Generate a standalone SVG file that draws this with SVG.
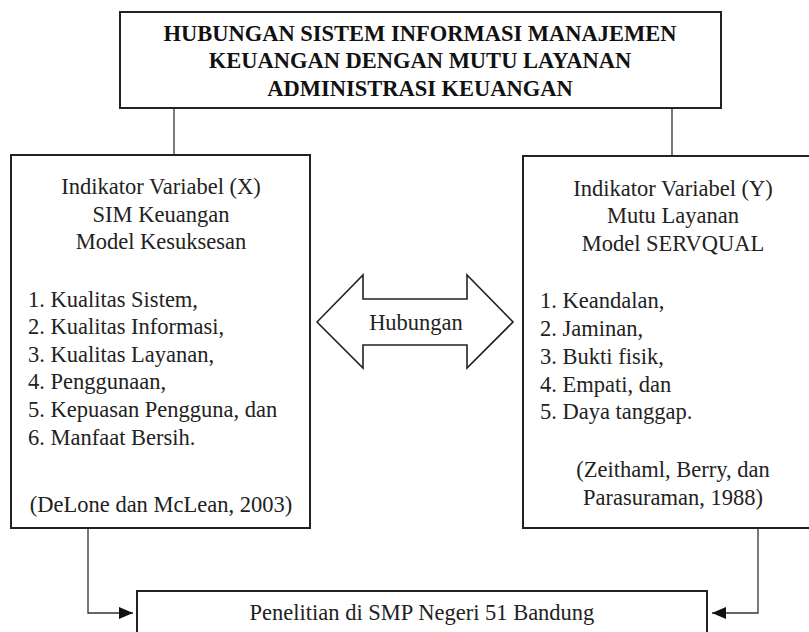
<svg xmlns="http://www.w3.org/2000/svg" width="809" height="632" viewBox="0 0 809 632">
<style>
.box{fill:#fff;stroke:#222;stroke-width:2}
.t{font-family:"Liberation Serif","Times New Roman",serif;font-size:22.5px;fill:#222}
.c{text-anchor:middle}
.title{font-family:"Liberation Serif","Times New Roman",serif;font-size:22.5px;font-weight:bold;fill:#111;text-anchor:middle}
.conn{fill:none;stroke:#333;stroke-width:1.3}
</style>
<defs>
<marker id="ah" markerWidth="14" markerHeight="12" refX="14" refY="6" orient="auto" markerUnits="userSpaceOnUse">
<path d="M0,0 L14,6 L0,12 Z" fill="#111"/>
</marker>
</defs>
<rect width="809" height="632" fill="#fff"/>
<g id="connectors">
<line class="conn" x1="174" y1="108" x2="174" y2="155"/>
<line class="conn" x1="672" y1="108" x2="672" y2="156"/>
<polyline class="conn" points="88,528 88,613 133,613" marker-end="url(#ah)"/>
<polyline class="conn" points="758,528 758,613 712,613" marker-end="url(#ah)"/>
</g>
<g id="title">
<rect class="box" x="120" y="12" width="601" height="96"/>
<text class="title" x="420" y="41">HUBUNGAN SISTEM INFORMASI MANAJEMEN</text>
<text class="title" x="420" y="68">KEUANGAN DENGAN MUTU LAYANAN</text>
<text class="title" x="420" y="96">ADMINISTRASI KEUANGAN</text>
</g>
<g id="var-x">
<rect class="box" x="11" y="155" width="299" height="373"/>
<text class="t c" x="161" y="194">Indikator Variabel (X)</text>
<text class="t c" x="161" y="222">SIM Keuangan</text>
<text class="t c" x="161" y="249">Model Kesuksesan</text>
<text class="t" x="28" y="307">1. Kualitas Sistem,</text>
<text class="t" x="28" y="334">2. Kualitas Informasi,</text>
<text class="t" x="28" y="362">3. Kualitas Layanan,</text>
<text class="t" x="28" y="389">4. Penggunaan,</text>
<text class="t" x="28" y="417">5. Kepuasan Pengguna, dan</text>
<text class="t" x="28" y="445">6. Manfaat Bersih.</text>
<text class="t c" x="161" y="512">(DeLone dan McLean, 2003)</text>
</g>
<g id="var-y">
<rect class="box" x="523" y="156" width="300" height="372"/>
<text class="t c" x="673" y="196">Indikator Variabel (Y)</text>
<text class="t c" x="673" y="223">Mutu Layanan</text>
<text class="t c" x="673" y="251">Model SERVQUAL</text>
<text class="t" x="540" y="308">1. Keandalan,</text>
<text class="t" x="540" y="336">2. Jaminan,</text>
<text class="t" x="540" y="364">3. Bukti fisik,</text>
<text class="t" x="540" y="392">4. Empati, dan</text>
<text class="t" x="540" y="419">5. Daya tanggap.</text>
<text class="t c" x="673" y="477">(Zeithaml, Berry, dan</text>
<text class="t c" x="673" y="505">Parasuraman, 1988)</text>
</g>
<g id="hubungan">
<path d="M317,322 L363,275 L363,299 L467,299 L467,275 L513,322 L467,368 L467,345 L363,345 L363,368 Z" fill="#fff" stroke="#222" stroke-width="1.6" stroke-linejoin="miter"/>
<text class="t c" x="416" y="330">Hubungan</text>
</g>
<g id="penelitian">
<rect class="box" x="137" y="591" width="570" height="60"/>
<text class="t c" x="422" y="620">Penelitian di SMP Negeri 51 Bandung</text>
</g>
</svg>
